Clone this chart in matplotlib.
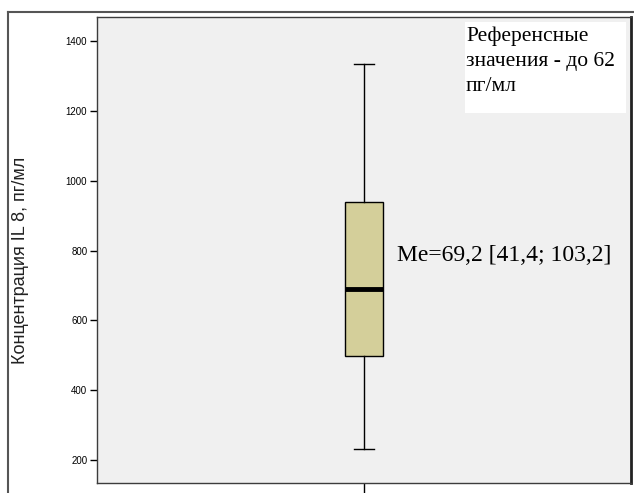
"""Box plot of IL-8 concentration with median and reference annotation."""

import matplotlib

matplotlib.use("Agg")
import matplotlib.pyplot as plt
from matplotlib.lines import Line2D

# IL-8 summary statistics, pg/ml
IL8_WHISKER_LOW = 231
IL8_Q1 = 497
IL8_MEDIAN = 691
IL8_Q3 = 940
IL8_WHISKER_HIGH = 1334

Y_TICKS = [200, 400, 600, 800, 1000, 1200, 1400]
Y_LABEL = "Концентрация IL 8, пг/мл"
MEDIAN_TEXT = "Me=69,2 [41,4; 103,2]"
REFERENCE_TEXT = "Референсные\nзначения - до 62\nпг/мл"

BOX_COLOR = "#d4cf9a"
PANEL_COLOR = "#f0f0f0"
FRAME_COLOR = "#3c3c3c"
SANS = ["Liberation Sans", "DejaVu Sans"]
SERIF = ["Liberation Serif", "DejaVu Serif"]

W, H = 634, 493
fig = plt.figure(figsize=(W / 100, H / 100), dpi=100)
fig.patch.set_facecolor("white")

# axes box in pixel terms: x 97..631, y 17..483
ax = fig.add_axes([97 / W, (H - 483) / H, (631 - 97) / W, (483 - 17) / H])
ax.set_facecolor(PANEL_COLOR)

stats = [{
    "whislo": IL8_WHISKER_LOW,
    "q1": IL8_Q1,
    "med": IL8_MEDIAN,
    "q3": IL8_Q3,
    "whishi": IL8_WHISKER_HIGH,
    "fliers": [],
}]
ax.bxp(
    stats,
    positions=[1],
    widths=0.07,
    capwidths=0.036,
    patch_artist=True,
    showfliers=False,
    boxprops=dict(facecolor=BOX_COLOR, edgecolor="black", linewidth=1.0),
    medianprops=dict(color="black", linewidth=3.5, solid_capstyle="butt"),
    whiskerprops=dict(color="black", linewidth=1.0),
    capprops=dict(color="black", linewidth=1.0),
)

ax.set_xlim(0.5, 1.5)
ax.set_ylim(134, 1469)
ax.set_xticks([1])
ax.set_xticklabels([""])
ax.tick_params(axis="x", direction="out", length=10, width=1, color="black")
ax.set_yticks(Y_TICKS)
ax.set_yticklabels([str(v) for v in Y_TICKS], fontfamily=SANS, fontsize=7)
ax.tick_params(axis="y", direction="out", length=5, width=1, color="black", pad=2)

for side in ("left", "bottom", "top"):
    ax.spines[side].set_color(FRAME_COLOR)
    ax.spines[side].set_linewidth(1.0)
ax.spines["right"].set_color("#222222")
ax.spines["right"].set_linewidth(2.0)

fig.text(21 / W, 1 - 260 / H, Y_LABEL, rotation=90, ha="center", va="center",
         fontsize=13, fontfamily=SANS, color="#222222")

ax.text(1.062, 786, MEDIAN_TEXT, ha="left", va="center",
        fontsize=17, fontfamily=SERIF)

# white reference box in the upper right corner
fig.patches.append(plt.Rectangle((465 / W, 1 - 113 / H), (626 - 465) / W,
                                 (113 - 22) / H, transform=fig.transFigure,
                                 facecolor="white", edgecolor="none", zorder=2))
fig.text(466 / W, 1 - 27 / H, REFERENCE_TEXT, ha="left", va="top",
         fontsize=15.5, linespacing=1.4, zorder=3, fontfamily=SERIF)

# outer frame lines along the top and left edges
fig.add_artist(Line2D([8 / W, 1], [1 - 12 / H, 1 - 12 / H],
                      transform=fig.transFigure, color="#555555", linewidth=1.5))
fig.add_artist(Line2D([8 / W, 8 / W], [0, 1 - 12 / H],
                      transform=fig.transFigure, color="#555555", linewidth=1.5))

fig.savefig("out.png", dpi=100)
